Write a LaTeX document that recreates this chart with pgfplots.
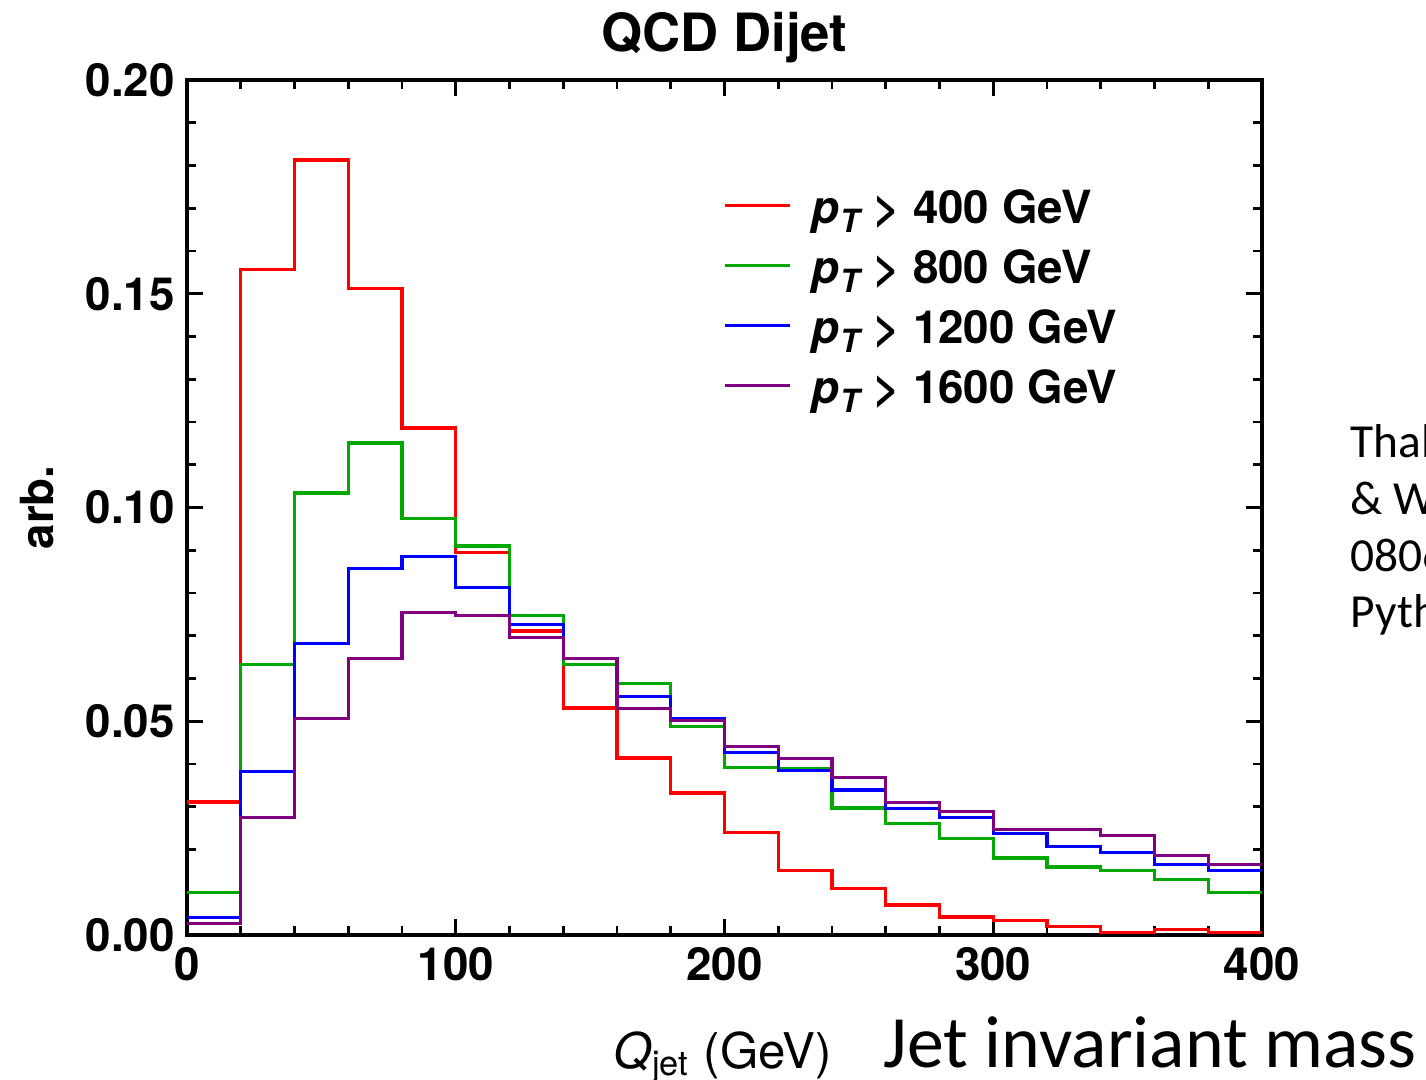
\documentclass[border=0pt]{standalone}
\usepackage{fontspec}
\setmainfont{TeX Gyre Heros}
\newfontfamily\calibri{Carlito}
\usepackage{pgfplots}
\pgfplotsset{compat=1.18}
\definecolor{cred}{RGB}{255,0,0}
\definecolor{cgreen}{RGB}{0,168,0}
\definecolor{cblue}{RGB}{0,0,255}
\definecolor{cpurple}{RGB}{128,0,128}
\begin{document}
\begin{tikzpicture}
\begin{axis}[
  at={(1.87cm,1.45cm)}, anchor=south west,
  scale only axis, width=10.75cm, height=8.55cm,
  xmin=0, xmax=400, ymin=0, ymax=0.2,
  xtick={0,100,200,300,400}, ytick={0,0.05,0.1,0.15,0.2},
  minor x tick num=4, minor y tick num=4,
  major tick length=0.16cm, minor tick length=0.09cm,
  tick style={black, line width=0.8pt},
  axis line style={line width=1pt},
  scaled y ticks=false,
  yticklabel style={/pgf/number format/.cd, fixed, fixed zerofill, precision=2},
  /pgf/number format/assume math mode=true,
  tick label style={font=\bfseries\fontsize{13}{15}\selectfont},
  title={QCD Dijet},
  title style={font=\bfseries\fontsize{15}{17}\selectfont, at={(axis description cs:0.5,1)}, anchor=base, yshift=0.07cm},
  xlabel={\textit{Q}\textsubscript{jet} (GeV)},
  xlabel style={at={(axis description cs:0.4986,-0.1556)}, anchor=base, font=\fontsize{14}{16}\selectfont},
  ylabel={arb.},
  ylabel style={at={(axis description cs:-0.1395,0.5)}, anchor=center, font=\bfseries\fontsize{13}{15}\selectfont},
  legend style={at={(0.4986,0.8713)}, anchor=north west, draw=none, fill=none, inner sep=0pt,
    font=\bfseries\fontsize{13}{15}\selectfont,
    nodes={inner sep=0pt, text height=0.33cm, text depth=0.1cm},
    row sep=0.17cm,
    /tikz/every odd column/.append style={column sep=0.2cm}},
  legend cell align=left,
  legend image code/.code={\draw[#1] (0cm,0.07cm) -- (0.65cm,0.07cm);},
  const plot, no marks,
  every axis plot/.append style={line width=0.9pt},
]
\addplot[color=cred] coordinates {
(0,0.0311) (20,0.1556) (40,0.1813) (60,0.1513) (80,0.1186) (100,0.0894) (120,0.0711) (140,0.0531) (160,0.0414) (180,0.0332)
(200,0.0239) (220,0.0150) (240,0.0108) (260,0.0070) (280,0.0042) (300,0.0033) (320,0.0019) (340,0.0005) (360,0.0012) (380,0.0005) (400,0.0005)};
\addlegendentry{{\itshape p\textsubscript{T}} > 400 GeV}
\addplot[color=cgreen] coordinates {
(0,0.0100) (20,0.0632) (40,0.1034) (60,0.1151) (80,0.0975) (100,0.0910) (120,0.0747) (140,0.0632) (160,0.0588) (180,0.0487)
(200,0.0391) (220,0.0390) (240,0.0297) (260,0.0260) (280,0.0225) (300,0.0180) (320,0.0159) (340,0.0150) (360,0.0129) (380,0.0100) (400,0.0100)};
\addlegendentry{{\itshape p\textsubscript{T}} > 800 GeV}
\addplot[color=cblue] coordinates {
(0,0.0041) (20,0.0383) (40,0.0682) (60,0.0858) (80,0.0885) (100,0.0813) (120,0.0727) (140,0.0647) (160,0.0557) (180,0.0507)
(200,0.0427) (220,0.0384) (240,0.0339) (260,0.0296) (280,0.0274) (300,0.0238) (320,0.0207) (340,0.0193) (360,0.0165) (380,0.0150) (400,0.0150)};
\addlegendentry{{\itshape p\textsubscript{T}} > 1200 GeV}
\addplot[color=cpurple] coordinates {
(0,0.0026) (20,0.0274) (40,0.0507) (60,0.0646) (80,0.0754) (100,0.0748) (120,0.0696) (140,0.0647) (160,0.0530) (180,0.0501)
(200,0.0441) (220,0.0412) (240,0.0369) (260,0.0310) (280,0.0289) (300,0.0246) (320,0.0246) (340,0.0232) (360,0.0186) (380,0.0165) (400,0.0165)};
\addlegendentry{{\itshape p\textsubscript{T}} > 1600 GeV}
\end{axis}
\node[anchor=base west, inner sep=0pt, font=\calibri\fontsize{21}{25}\selectfont] at (8.83cm,0.12cm) {Jet invariant mass};
\node[anchor=base west, inner sep=0pt, font=\calibri\fontsize{13.5}{16}\selectfont] at (13.50cm,6.22cm) {Thaler};
\node[anchor=base west, inner sep=0pt, font=\calibri\fontsize{13.5}{16}\selectfont] at (13.50cm,5.65cm) {\& Wang};
\node[anchor=base west, inner sep=0pt, font=\calibri\fontsize{13.5}{16}\selectfont] at (13.50cm,5.08cm) {0806.0023};
\node[anchor=base west, inner sep=0pt, font=\calibri\fontsize{13.5}{16}\selectfont] at (13.50cm,4.52cm) {Pythia};
\pgfresetboundingbox
\path[use as bounding box] (0,0) rectangle (14.26cm,10.80cm);
\end{tikzpicture}
\end{document}
